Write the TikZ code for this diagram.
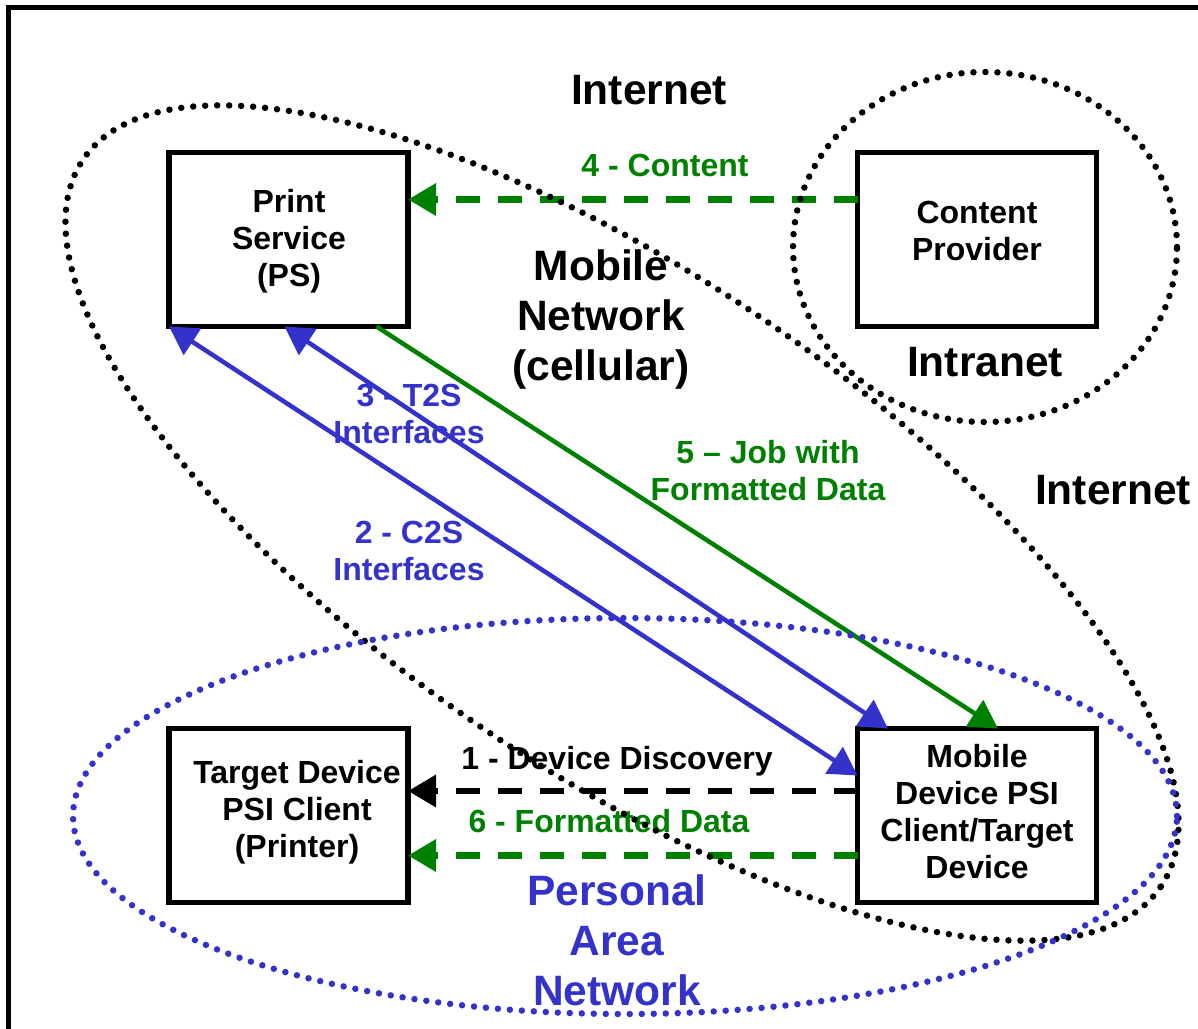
\documentclass[tikz,border=0pt]{standalone}
\usepackage{fontspec}
\setmainfont{Liberation Sans}
\usetikzlibrary{arrows.meta}
\definecolor{pblue}{RGB}{51,51,204}
\definecolor{pgreen}{RGB}{0,128,0}
\tikzset{bigtip/.tip={Triangle[length=28pt,width=31pt]}}
\begin{document}
\begin{tikzpicture}[x=1pt,y=-1pt,
  box/.style={draw,line width=5.5pt,minimum width=239pt,minimum height=174pt,inner sep=0pt,outer sep=0pt,fill=white},
  small/.style={font=\bfseries\fontsize{32}{37}\selectfont,align=center,inner sep=0pt},
  big/.style={font=\bfseries\fontsize{42.5}{50}\selectfont,align=center,inner sep=0pt},
  dotline/.style={line width=6.5pt,line cap=round,dash pattern=on 0pt off 12pt},
  dashline/.style={line width=6.5pt,dash pattern=on 24pt off 18pt},
  solidline/.style={line width=4.5pt}
]
\useasboundingbox (0,0) rectangle (1198,1028);
\clip (0,0) rectangle (1198,1028);
\fill[white] (0,0) rectangle (1198,1028);
\draw[line width=5.5pt] (8.5,7.5) rectangle (1240,1070);

% boxes
\node[box] (ps) at (288.5,239.5) {};
\node[box] (cp) at (977,239.5) {};
\node[box] (td) at (288.5,815.5) {};
\node[box] (md) at (977,815.5) {};

% connectors
\draw[pblue,solidline,bigtip-bigtip] (ps.south west) -- ([yshift=40pt]md.west);
\draw[pblue,solidline,bigtip-bigtip] ([xshift=-4pt]ps.south) -- ([xshift=-89pt]md.north);
\draw[pgreen,solidline,-bigtip] ([xshift=88pt]ps.south) -- ([xshift=21pt]md.north);
\draw[pgreen,dashline,-bigtip] ([yshift=40pt]cp.west) -- ([yshift=40pt]ps.east);
\draw[black,dashline,-bigtip] ([yshift=24.5pt]md.west) -- ([yshift=24.5pt]td.east);
\draw[pgreen,dashline,-bigtip] ([yshift=-40pt]md.west) -- ([yshift=-40pt]td.east);

% texts
\node[small] (pst) at (289,241) {Print\\Service\\(PS)};
\node[small] (cpt) at (977,230.5) {Content\\Provider};
\node[small] (tdt) at (297,812) {Target Device\\PSI Client\\(Printer)};
\node[small] (mdt) at (977,812) {Mobile\\Device PSI\\Client/Target\\Device};
\node[big] (inet1) at (649,90) {Internet};
\node[big] (mobnet) at (601,320) {Mobile\\Network\\(cellular)};
\node[small,text=pgreen] (l4) at (665,165) {4 - Content};
\node[big] (intra) at (985,362) {Intranet};
\node[small,text=pblue] (l3) at (409,413.5) {3 - T2S\\Interfaces};
\node[small,text=pgreen] (l5) at (768,471) {5 – Job with\\Formatted Data};
\node[big] (inet2) at (1113,490) {Internet};
\node[small,text=pblue] (l2) at (409,551) {2 - C2S\\Interfaces};
\node[small] (l1) at (617,761) {1 - Device Discovery};
\node[small,text=pgreen] (l6) at (609,821) {6 - Formatted Data};
\node[big,text=pblue] (pan) at (617,940) {Personal\\Area\\Network};

% dotted regions
\draw[dotline,rotate around={-34:(622,523)}] (622,523) ellipse [x radius=650pt, y radius=248pt];
\draw[dotline] (985,247) ellipse [x radius=192pt, y radius=175pt];
\draw[dotline,pblue] (625,816) ellipse [x radius=552pt, y radius=198pt];
\end{tikzpicture}
\end{document}
